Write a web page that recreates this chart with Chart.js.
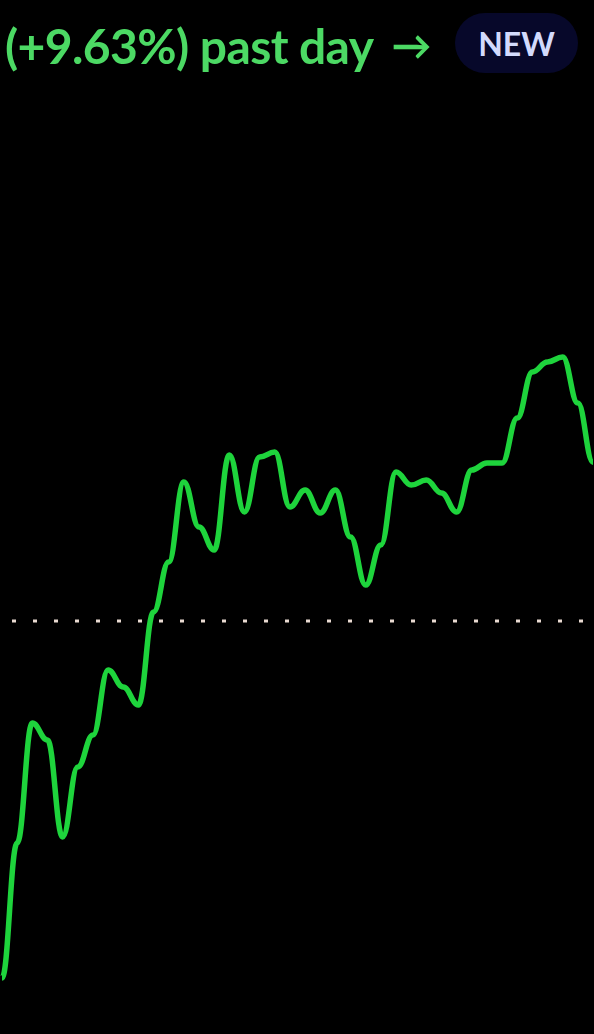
<!DOCTYPE html>
<html>
<head>
<meta charset="utf-8">
<script src="https://cdn.jsdelivr.net/npm/chart.js@4.4.1/dist/chart.umd.min.js"></script>
<style>
  html, body { margin: 0; padding: 0; background: #000; }
  #wrap { position: relative; width: 594px; height: 1034px; overflow: hidden; }
  #chart { position: absolute; left: 0; top: 0; }
  .header {
    position: absolute; left: 5px; top: 14px; height: 62px;
    display: flex; align-items: center;
    font-family: Lato, "Noto Sans", sans-serif; font-weight: 700;
    font-size: 48px; letter-spacing: -0.6px; color: #4cd964; white-space: nowrap;
  }
  .header .arrow { margin-left: 18px; font-size: 40px; }
  .badge {
    position: absolute; left: 455px; top: 13px; width: 123px; height: 60px;
    border-radius: 30px; background: #07082a;
    display: flex; align-items: center; justify-content: center;
    font-family: Lato, "Noto Sans", sans-serif; font-weight: 700;
    font-size: 32px; color: #d3dafc;
  }
</style>
</head>
<body>
<div id="wrap">
  <canvas id="chart" width="594" height="1034"></canvas>
  <div class="header">(+9.63%) past day<span class="arrow">&rarr;</span></div>
  <div class="badge">NEW</div>
</div>
<script>
// price over the past day
const labels = [
  "t0", "t1", "t2", "t3", "t4", "t5", "t6", "t7", "t8", "t9",
  "t10", "t11", "t12", "t13", "t14", "t15", "t16", "t17", "t18", "t19",
  "t20", "t21", "t22", "t23", "t24", "t25", "t26", "t27", "t28", "t29",
  "t30", "t31", "t32", "t33", "t34", "t35", "t36", "t37", "t38", "t39"
];
const prices = [
  78.36, 86.55, 93.82, 92.79, 86.91, 91.15, 93.09, 97.03, 96.00, 94.91,
  100.55, 103.58, 108.42, 105.70, 104.30, 110.06, 106.61, 109.94, 110.24, 106.91,
  107.94, 106.55, 107.94, 105.09, 102.18, 104.61, 109.03, 108.24, 108.55, 107.76,
  106.61, 109.15, 109.58, 109.58, 112.30, 115.09, 115.70, 116.00, 113.21, 109.63
];
const openPrice = 100; // price one day ago (dotted line)

const yMin = 74.97;
const yMax = 137.64;

// give every point a flat tangent, so the curve gets little shoulders like the original
const flatTangents = {
  id: "flatTangents",
  beforeDatasetDraw(chart, args) {
    if (args.index !== 0) return;
    const meta = args.meta;
    meta.dataset.updateControlPoints(chart.chartArea, "x");
    const pts = meta.data;
    const k = 0.42;
    pts.forEach((p, i) => {
      const prev = pts[i - 1] || p;
      const next = pts[i + 1] || p;
      p.cp1x = p.x - (p.x - prev.x) * k;
      p.cp1y = p.y;
      p.cp2x = p.x + (next.x - p.x) * k;
      p.cp2y = p.y;
    });
  },
};

const ctx = document.getElementById("chart").getContext("2d");

new Chart(ctx, {
  type: "line",
  data: {
    labels: labels,
    datasets: [
      {
        data: prices,
        borderColor: "#1ed43c",
        borderWidth: 5.5,
        tension: 0.4,
        pointRadius: 0,
        fill: false,
      },
      {
        data: labels.map(() => openPrice),
        borderColor: "#eadbd2",
        borderWidth: 3,
        borderDash: [4, 17],
        borderDashOffset: 11,
        borderCapStyle: "butt",
        pointRadius: 0,
        fill: false,
      },
    ],
  },
  options: {
    responsive: false,
    animation: false,
    layout: { padding: { left: 2, right: 1, top: 0, bottom: 0 } },
    plugins: {
      legend: { display: false },
      tooltip: { enabled: false },
    },
    scales: {
      x: { display: false, offset: false },
      y: { display: false, min: yMin, max: yMax },
    },
  },
  plugins: [flatTangents],
});
</script>
</body>
</html>
